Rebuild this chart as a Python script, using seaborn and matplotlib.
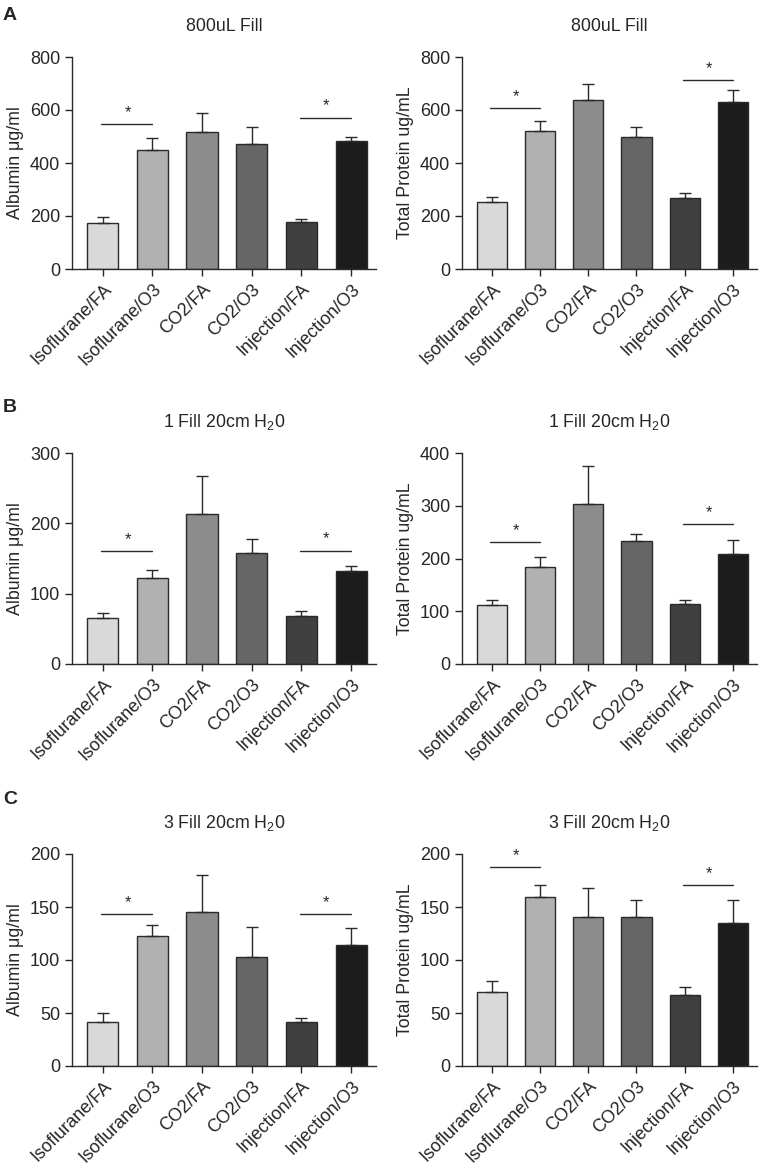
import numpy as np
import pandas as pd
import seaborn as sns
import matplotlib
matplotlib.use("Agg")
import matplotlib.pyplot as plt

groups = ["Isoflurane/FA", "Isoflurane/O3", "CO2/FA", "CO2/O3", "Injection/FA", "Injection/O3"]
bar_colors = ["#d9d9d9", "#b1b1b1", "#8c8c8c", "#666666", "#404040", "#1c1c1c"]

# mittelwerte und obere fehlergrenze (mean + SEM)
alb_800 = [173, 449, 518, 471, 177, 484]
alb_800_top = [198, 493, 587, 537, 189, 499]
tp_800 = [252, 520, 638, 499, 268, 631]
tp_800_top = [271, 557, 698, 537, 288, 675]

alb_1fill = [65.7, 122.8, 213.5, 158, 68.5, 132]
alb_1fill_top = [72.7, 134, 267, 177.6, 75, 140]
tp_1fill = [111.5, 184, 303, 232.4, 112.8, 209]
tp_1fill_top = [121.6, 203, 375, 246, 121, 235.6]

alb_3fill = [41.9, 122.8, 144.9, 102.7, 41.9, 114.3]
alb_3fill_top = [49.8, 133, 179.8, 131, 45.4, 130]
tp_3fill = [70.2, 159.7, 140.5, 140.5, 67.4, 135.1]
tp_3fill_top = [80.3, 171, 168.2, 156.9, 74.3, 156.2]

# signifikanz-linien (links, rechts)
sig_a_alb = [547, 571]
sig_a_tp = [607, 713]
sig_b_alb = [160, 161]
sig_b_tp = [230.5, 264.6]
sig_c_alb = [143, 143.3]
sig_c_tp = [187.7, 170.7]

sns.set_style("ticks")
plt.rcParams["font.family"] = ["Liberation Sans", "DejaVu Sans"]
plt.rcParams["mathtext.fontset"] = "custom"
plt.rcParams["mathtext.rm"] = "Liberation Sans"
plt.rcParams["mathtext.it"] = "Liberation Sans:italic"

W, H = 767, 1165
fig = plt.figure(figsize=(W / 100, H / 100), dpi=100)


def px_axes(left, right, top, bottom):
    return fig.add_axes([left / W, 1 - bottom / H, (right - left) / W, (bottom - top) / H])


def panel(ax, means, tops, title, ylabel, ymax, step, sig):
    df = pd.DataFrame({"group": groups, "value": means})
    sns.barplot(data=df, x="group", y="value", hue="group", palette=bar_colors,
                legend=False, width=0.63, edgecolor="#2a2a2a", linewidth=1.0, ax=ax)
    x = np.arange(len(groups))
    upper = np.array(tops) - np.array(means)
    ax.errorbar(x, means, yerr=[np.zeros(len(x)), upper], fmt="none",
                ecolor="#2a2a2a", elinewidth=1.0, capsize=4.5, capthick=1.0, zorder=1)
    # signifikanz
    for (i, j), y in zip([(0, 1), (4, 5)], sig):
        ax.plot([i - 0.04, j + 0.0], [y, y], color="#2a2a2a", lw=1.0)
        ax.text((i + j) / 2, y + ymax * 0.02, "*", ha="center", va="bottom", fontsize=12)
    ax.set_xlim(-0.62, 5.5)
    ax.set_ylim(0, ymax)
    ax.set_yticks(np.arange(0, ymax + 1, step))
    ax.set_xlabel("")
    ax.set_ylabel(ylabel, fontsize=12.8)
    ax.set_title(title, fontsize=12.8, pad=19)
    ax.set_xticks(x)
    ax.set_xticklabels(groups, rotation=45, ha="right", rotation_mode="anchor", fontsize=13)
    ax.tick_params(axis="y", labelsize=13, length=5, width=1)
    ax.tick_params(axis="x", length=5, width=1)
    for s in ["left", "bottom"]:
        ax.spines[s].set_linewidth(1.0)
        ax.spines[s].set_color("#2a2a2a")
    sns.despine(ax=ax)


rows = [(57, 269), (453, 664), (854, 1066)]
cols = [(72, 376), (462, 757)]

t800 = "800uL Fill"
t1 = r"1 Fill 20cm H$_{2}$0"
t3 = r"3 Fill 20cm H$_{2}$0"
alb_lab = "Albumin μg/ml"
tp_lab = "Total Protein ug/mL"

specs = [
    (0, 0, alb_800, alb_800_top, t800, alb_lab, 800, 200, sig_a_alb),
    (0, 1, tp_800, tp_800_top, t800, tp_lab, 800, 200, sig_a_tp),
    (1, 0, alb_1fill, alb_1fill_top, t1, alb_lab, 300, 100, sig_b_alb),
    (1, 1, tp_1fill, tp_1fill_top, t1, tp_lab, 400, 100, sig_b_tp),
    (2, 0, alb_3fill, alb_3fill_top, t3, alb_lab, 200, 50, sig_c_alb),
    (2, 1, tp_3fill, tp_3fill_top, t3, tp_lab, 200, 50, sig_c_tp),
]

for r, c, m, t, title, ylab, ymax, step, sig in specs:
    top, bottom = rows[r]
    left, right = cols[c]
    ax = px_axes(left, right, top, bottom)
    panel(ax, m, t, title, ylab, ymax, step, sig)

for letter, ypx in [("A", 15), ("B", 408), ("C", 800)]:
    fig.text(3 / W, 1 - ypx / H, letter, fontsize=14, fontweight="bold", va="center", ha="left")

fig.savefig("out.png", dpi=100)
